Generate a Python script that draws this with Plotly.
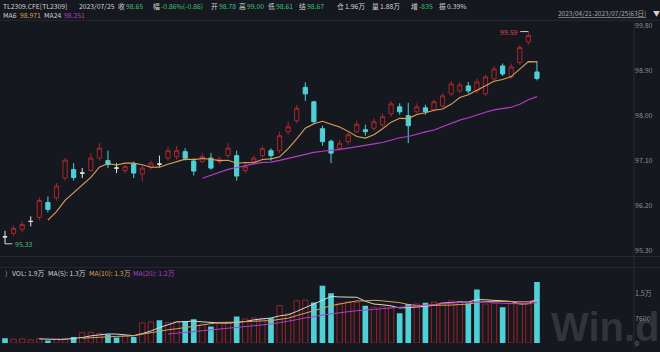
import plotly.graph_objects as go
import pandas as pd

W, H = 660, 352
PLOT_R = 634  # right edge of plotting area in px

# ---------------- data (63 trading days, 2023/04/21 - 2023/07/25) ----------------
opens = [95.47, 95.54, 95.62, 95.78, 95.86, 96.16, 96.25, 96.65, 96.82, 96.75,
         96.80, 97.05, 97.00, 96.85, 96.80, 96.93, 96.73, 96.87, 96.93, 97.05,
         97.08, 97.18, 96.99, 96.98, 97.05, 96.98, 97.10, 97.10, 96.80, 96.98,
         97.10, 97.20, 97.20, 97.58, 97.80, 98.47, 98.18, 97.64, 97.39, 97.25,
         97.38, 97.58, 97.62, 97.65, 97.72, 97.94, 98.08, 97.90, 97.98, 98.06,
         98.02, 98.10, 98.34, 98.40, 98.50, 98.40, 98.34, 98.64, 98.90, 98.68,
         98.97, 99.38, 98.78]
highs = [95.59, 95.70, 95.78, 95.88, 96.26, 96.28, 96.55, 97.05, 96.95, 96.85,
         97.15, 97.35, 97.20, 96.95, 96.92, 96.98, 96.90, 97.00, 97.10, 97.28,
         97.30, 97.25, 97.05, 97.15, 97.15, 97.08, 97.35, 97.20, 96.95, 97.10,
         97.30, 97.25, 97.58, 97.78, 98.12, 98.57, 98.20, 97.70, 97.42, 97.42,
         97.58, 97.80, 97.72, 97.85, 97.95, 98.20, 98.15, 98.16, 98.15, 98.12,
         98.22, 98.35, 98.60, 98.58, 98.58, 98.65, 98.72, 98.90, 98.95, 98.95,
         99.32, 99.59, 99.00]
lows = [95.33, 95.48, 95.56, 95.68, 95.80, 95.96, 96.20, 96.60, 96.60, 96.65,
        96.78, 97.00, 96.85, 96.75, 96.75, 96.65, 96.58, 96.82, 96.88, 97.00,
        97.02, 97.00, 96.70, 96.95, 96.82, 96.93, 97.05, 96.60, 96.75, 96.93,
        97.05, 97.00, 97.15, 97.52, 97.75, 98.20, 97.74, 97.30, 96.95, 97.20,
        97.32, 97.55, 97.50, 97.60, 97.68, 97.88, 97.92, 97.35, 97.95, 97.92,
        97.98, 98.05, 98.30, 98.35, 98.35, 98.35, 98.30, 98.60, 98.70, 98.64,
        98.92, 99.33, 98.61]
closes = [95.47, 95.64, 95.72, 95.78, 96.20, 96.02, 96.49, 97.01, 96.66, 96.75,
          97.05, 97.25, 96.92, 96.85, 96.88, 96.75, 96.85, 96.95, 96.93, 97.20,
          97.20, 97.05, 96.79, 97.08, 96.85, 97.03, 97.25, 96.69, 96.88, 97.05,
          97.24, 97.10, 97.50, 97.68, 98.05, 98.34, 97.78, 97.38, 97.15, 97.35,
          97.52, 97.73, 97.58, 97.78, 97.88, 98.14, 97.98, 97.70, 98.08, 97.98,
          98.18, 98.30, 98.54, 98.52, 98.40, 98.58, 98.68, 98.84, 98.74, 98.88,
          99.27, 99.51, 98.65]
volumes = [1500, 1200, 1300, 1000, 1400, 800, 1200, 1400, 1900, 3200,
           3300, 3000, 2600, 1700, 2200, 1900, 6200, 6500, 7000, 6300,
           6500, 6700, 7300, 5800, 5100, 6000, 6400, 8200, 7400, 7700,
           7600, 7600, 11500, 9000, 13000, 13200, 12500, 17600, 15300, 12300,
           12700, 12500, 11500, 11000, 11200, 11000, 9200, 12000, 12000, 12400,
           12600, 12400, 13000, 12800, 12200, 16500, 12000, 12300, 11000, 12200,
           12500, 12400, 18800]
# 1 = red (rising) volume bar, 0 = cyan (falling)
vol_up = [0, 1, 1, 1, 1, 0, 1, 1, 0, 1,
          1, 1, 0, 0, 1, 0, 1, 1, 0, 1,
          1, 0, 0, 1, 0, 1, 1, 0, 1, 1,
          1, 0, 1, 1, 1, 1, 0, 0, 0, 1,
          1, 1, 0, 1, 1, 1, 0, 0, 1, 0,
          1, 1, 1, 1, 0, 0, 1, 1, 0, 1,
          1, 1, 0]
price_ticks = [95.30, 96.20, 97.10, 98.00, 98.90, 99.80]
vol_ticks = [0, 7600, 15200]
vol_tick_text = ["0", "7600", "1.5万"]

# ---------------- styling ----------------
BG = "#15181f"
RED = "#a8262d"
RED_DIM = "#9a2229"
CYAN = "#4fd0d7"
WHITE = "#e6e6e6"
ORANGE = "#d9a25a"
MAGENTA = "#b43cc8"
GREEN = "#3cc07a"
TXT = "#d2d2d2"
AX = "#8b8e96"
LINE = "#262a34"
FONT = "Noto Sans CJK SC, Noto Sans, sans-serif"

idx = list(range(len(closes)))
ma6 = pd.Series(closes).rolling(6).mean()
ma24 = pd.Series(closes).rolling(24).mean()
vs = pd.Series(volumes, dtype=float)
vma5 = vs.rolling(5).mean()
vma10 = vs.rolling(10).mean()
vma20 = vs.rolling(20).mean()


def xp(px):
    return px / PLOT_R


def yp(py):
    return (H - py) / H


def candles(ids, col, fill):
    return go.Candlestick(
        x=ids,
        open=[opens[i] for i in ids], high=[highs[i] for i in ids],
        low=[lows[i] for i in ids], close=[closes[i] for i in ids],
        increasing=dict(line=dict(color=col, width=1), fillcolor=fill),
        decreasing=dict(line=dict(color=col, width=1), fillcolor=fill),
        whiskerwidth=0, showlegend=False, hoverinfo="skip",
        xaxis="x", yaxis="y",
    )


up_ids = [i for i in idx if closes[i] > opens[i]]
dn_ids = [i for i in idx if closes[i] < opens[i]]
dj_ids = [i for i in idx if closes[i] == opens[i]]

fig = go.Figure()
fig.add_trace(candles(up_ids, RED, "rgba(0,0,0,0)"))
fig.add_trace(candles(dn_ids, CYAN, CYAN))
fig.add_trace(candles(dj_ids, WHITE, WHITE))
fig.add_trace(go.Scatter(x=idx, y=ma6, mode="lines", line=dict(color=ORANGE, width=1.1),
                         hoverinfo="skip", showlegend=False, yaxis="y"))
fig.add_trace(go.Scatter(x=idx, y=ma24, mode="lines", line=dict(color=MAGENTA, width=1.2),
                         hoverinfo="skip", showlegend=False, yaxis="y"))

vu = [i for i in idx if vol_up[i] == 1]
vd = [i for i in idx if vol_up[i] == 0]
fig.add_trace(go.Bar(x=vu, y=[volumes[i] for i in vu], yaxis="y2", width=0.62,
                     marker=dict(color="rgba(0,0,0,0)", line=dict(color=RED_DIM, width=1)),
                     hoverinfo="skip", showlegend=False))
fig.add_trace(go.Bar(x=vd, y=[volumes[i] for i in vd], yaxis="y2", width=0.66,
                     marker=dict(color=CYAN, line=dict(width=0)),
                     hoverinfo="skip", showlegend=False))
for s, c in [(vma5, "#d8d8d8"), (vma10, ORANGE), (vma20, MAGENTA)]:
    fig.add_trace(go.Scatter(x=idx, y=s, mode="lines", line=dict(color=c, width=1),
                             hoverinfo="skip", showlegend=False, yaxis="y2"))

ann = []


def txt(px, py, s, color=TXT, size=6.8, anchor="left", family=FONT):
    ann.append(dict(x=xp(px), y=yp(py), xref="paper", yref="paper", text=s,
                    showarrow=False, xanchor=anchor, yanchor="middle",
                    font=dict(color=color, size=size, family=family)))


# header row 1
txt(1, 6, "TL2309.CFE[TL2309]")
txt(77, 6, "2023/07/25")
pairs = [(116, "收", "98.65", GREEN), (151, "幅", "-0.86%(-0.86)", GREEN),
         (209, "开", "98.78", GREEN), (237, "高", "99.00", GREEN),
         (266, "低", "98.61", GREEN), (297, "结", "98.67", GREEN),
         (335, "仓", "1.96万", TXT), (370, "量", "1.88万", TXT),
         (409, "增", "-835", GREEN), (437, "振", "0.39%", TXT)]
for x0, lab, val, col in pairs:
    txt(x0, 6, lab)
    txt(x0 + 8, 6, val, color=col)
# header row 2
txt(1, 15.5, "MA6")
txt(18, 15.5, "98.971", color=ORANGE)
txt(42, 15.5, "MA24")
txt(62, 15.5, "98.251", color=MAGENTA)
txt(648, 13.5, "<u>2023/04/21-2023/07/25(63日)</u>", color="#a8a8a8", anchor="right", size=6.5)
txt(651, 13.5, "▼", color=TXT, size=7)

# volume header
def wan(v):
    return f"{v / 1e4:.1f}万"


txt(3, 276, "⟩", color=AX)
txt(10, 276, f"VOL: {wan(volumes[-1])}")
txt(46, 276, f"MA(5): {wan(vma5.iloc[-1])}")
txt(87, 276, f"MA(10): {wan(vma10.iloc[-1])}", color=ORANGE)
txt(131, 276, f"MA(20): {wan(vma20.iloc[-1])}", color=MAGENTA)

# watermark
ann.append(dict(x=xp(549), y=yp(331), xref="paper", yref="paper", text="<b>Win.d</b>",
                showarrow=False, xanchor="left", yanchor="middle",
                font=dict(color="rgba(120,124,134,0.30)", size=40,
                          family="Liberation Sans, Arial, sans-serif")))

# high / low markers
hi_i = max(idx, key=lambda i: highs[i])
lo_i = min(idx, key=lambda i: lows[i])
ann.append(dict(x=hi_i - 0.95, y=highs[hi_i], xref="x", yref="y", text=f"{highs[hi_i]:.2f}",
                showarrow=False, xanchor="right", yanchor="middle",
                font=dict(color="#e04448", size=7, family=FONT)))
ann.append(dict(x=lo_i + 0.9, y=lows[lo_i], xref="x", yref="y", text=f"{lows[lo_i]:.2f}",
                showarrow=False, xanchor="left", yanchor="middle",
                font=dict(color=GREEN, size=7, family=FONT)))

shapes = [
    dict(type="line", xref="x", yref="y", x0=hi_i - 0.95, x1=hi_i, y0=highs[hi_i], y1=highs[hi_i],
         line=dict(color="#cfcfcf", width=1)),
    dict(type="line", xref="x", yref="y", x0=lo_i, x1=lo_i + 0.85, y0=lows[lo_i], y1=lows[lo_i],
         line=dict(color="#cfcfcf", width=1)),
]
for py in [20.5, 259.5, 270.5]:
    shapes.append(dict(type="line", xref="paper", yref="paper", x0=0, x1=W / PLOT_R,
                       y0=yp(py), y1=yp(py), line=dict(color=LINE, width=1)))
shapes.append(dict(type="line", xref="paper", yref="paper", x0=1, x1=1, y0=0, y1=yp(20.5),
                   line=dict(color=LINE, width=1)))

fig.update_layout(
    width=W, height=H,
    margin=dict(l=0, r=W - PLOT_R, t=0, b=0),
    paper_bgcolor=BG, plot_bgcolor=BG,
    barmode="overlay", boxmode="overlay",
    font=dict(family=FONT, color=TXT),
    xaxis=dict(range=[-0.583, 73.31], showgrid=False, zeroline=False, showticklabels=False,
               showline=False, ticks="", rangeslider=dict(visible=False), anchor="y2"),
    yaxis=dict(domain=[yp(258), yp(20)], range=[95.104, 99.827], side="right",
               tickvals=price_ticks, ticktext=[f"{v:.2f}" for v in price_ticks],
               tickfont=dict(size=7, color=AX), showgrid=False, zeroline=False,
               showline=False, ticks="", anchor="x", ticklabelposition="outside bottom"),
    yaxis2=dict(domain=[yp(347), yp(282)], range=[0, 19760], side="right",
                tickvals=vol_ticks, ticktext=vol_tick_text,
                tickfont=dict(size=7, color=AX), showgrid=False, zeroline=False,
                showline=False, ticks="", anchor="x"),
    annotations=ann, shapes=shapes,
)

fig.write_html("out.html")
